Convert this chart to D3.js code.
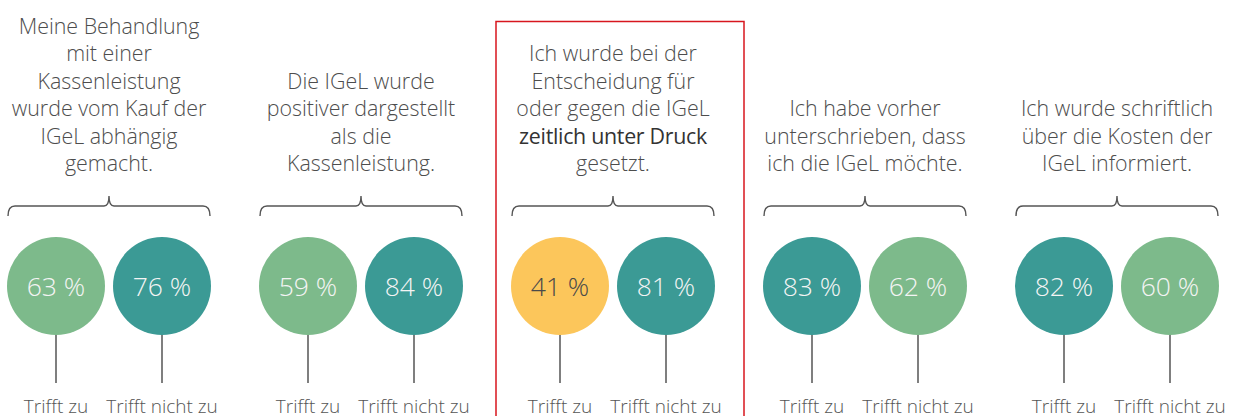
<!DOCTYPE html>
<html lang="de">
<head>
<meta charset="UTF-8">
<title>IGeL Aussagen</title>
<style>
  body { margin: 0; background: #fff; }
  svg { display: block; font-family: "Open Sans", sans-serif; font-weight: 300; }
</style>
</head>
<body>
<script src="https://cdn.jsdelivr.net/npm/d3@7"></script>
<script>
// Aussagen (Zeilen wie im Original umbrochen, *...* = fett)
const statements = [
  ["Meine Behandlung", "mit einer", "Kassenleistung", "wurde vom Kauf der", "IGeL abhängig", "gemacht."],
  ["Die IGeL wurde", "positiver dargestellt", "als die", "Kassenleistung."],
  ["Ich wurde bei der", "Entscheidung für", "oder gegen die IGeL", "*zeitlich unter Druck*", "gesetzt."],
  ["Ich habe vorher", "unterschrieben, dass", "ich die IGeL möchte."],
  ["Ich wurde schriftlich", "über die Kosten der", "IGeL informiert."]
];
const trifftZu = [63, 59, 41, 83, 82];
const trifftNichtZu = [76, 84, 81, 62, 60];
const answerLabels = ["Trifft zu", "Trifft nicht zu"];
const highlighted = 2;

const width = 1236, height = 416;
const svg = d3.select("body").append("svg")
    .attr("width", width)
    .attr("height", height);

const x = d3.scalePoint()
    .domain(d3.range(statements.length))
    .range([109, 1117]);
const inner = d3.scalePoint()
    .domain([0, 1])
    .range([-53, 53]);
const color = d3.scaleThreshold()
    .domain([50, 70])
    .range(["#fcc65b", "#7dba8b", "#3b9a95"]);

const r = 49, cy = 286, bracketY = 206, stemEnd = 383, lineH = 27.4, lastLine = 171;

// Rahmen um die hervorgehobene Aussage
svg.append("rect")
    .attr("x", x(highlighted) - 117)
    .attr("y", 21.5)
    .attr("width", 248)
    .attr("height", 420)
    .attr("fill", "none")
    .attr("stroke", "#d7161e")
    .attr("stroke-width", 1.5);

const data = statements.map((lines, i) => ({
  i, lines, values: [trifftZu[i], trifftNichtZu[i]]
}));

const g = svg.selectAll(".group")
  .data(data)
  .join("g")
    .attr("class", "group")
    .attr("transform", d => `translate(${x(d.i)},0)`);

// Titel
g.append("text")
    .attr("text-anchor", "middle")
    .attr("font-size", 21.4)
    .attr("fill", "#4d4d4d")
  .selectAll("tspan")
  .data(d => d.lines.map((t, k) => ({t, k, n: d.lines.length})))
  .join("tspan")
    .attr("x", 0)
    .attr("y", d => lastLine - (d.n - 1 - d.k) * lineH)
    .attr("font-weight", d => d.t.startsWith("*") ? 500 : null)
    .attr("fill", d => d.t.startsWith("*") ? "#333" : null)
    .attr("letter-spacing", d => d.t.startsWith("*") ? -0.3 : null)
    .text(d => d.t.replace(/\*/g, ""));

// Geschweifte Klammer
g.append("path")
    .attr("fill", "none")
    .attr("stroke", "#555")
    .attr("stroke-width", 1.4)
    .attr("d", () => {
      const L = inner(0) - r + 1, R = inner(1) + r - 1, y = bracketY;
      return `M${L},${y + 10} Q${L},${y} ${L + 7},${y} H-5 Q0,${y} 0,${y - 10}` +
             ` Q0,${y} 5,${y} H${R - 7} Q${R},${y} ${R},${y + 10}`;
    });

const item = g.selectAll(".item")
  .data(d => d.values.map((v, k) => ({v, k})))
  .join("g")
    .attr("class", "item")
    .attr("transform", d => `translate(${inner(d.k)},0)`);

item.append("line")
    .attr("y1", cy + r)
    .attr("y2", stemEnd)
    .attr("stroke", "#555")
    .attr("stroke-width", 1.5);

item.append("circle")
    .attr("cy", cy)
    .attr("r", r)
    .attr("fill", d => color(d.v));

item.append("text")
    .attr("y", cy + 9.5)
    .attr("text-anchor", "middle")
    .attr("font-size", 26.5)
    .attr("fill", d => d.v < 50 ? "#4a4a4a" : "#f4f4f4")
    .text(d => `${d.v} %`);

item.append("text")
    .attr("y", 413)
    .attr("text-anchor", "middle")
    .attr("font-size", 19)
    .attr("fill", "#555")
    .text(d => answerLabels[d.k]);
</script>
</body>
</html>
